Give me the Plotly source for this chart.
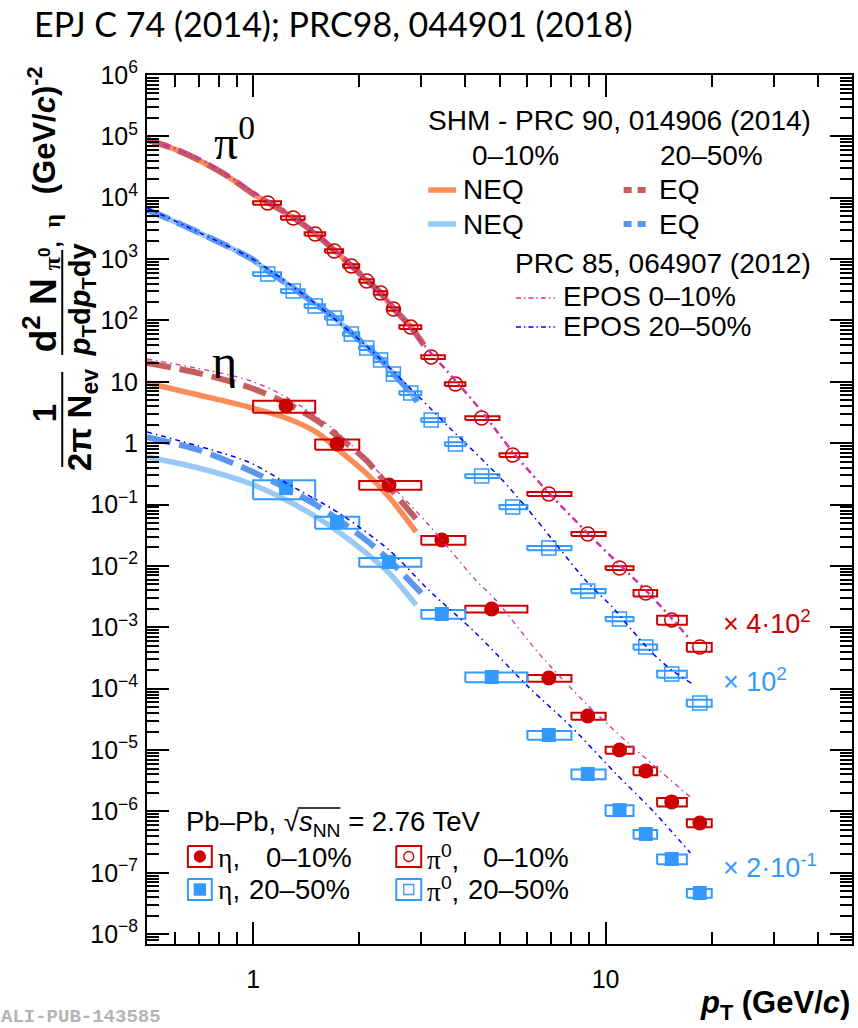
import math
import plotly.graph_objects as go

# ---------------- measured spectra (already multiplied by the scale factors) ----------------
# pi0: bin centres and bin edges (GeV/c)
pi0_pt = [1.1, 1.3, 1.5, 1.7, 1.9, 2.1, 2.3, 2.5, 2.8, 3.2, 3.75, 4.45, 5.45, 6.9, 8.9, 10.95, 13.0, 15.4, 18.5]
pi0_lo = [1.0, 1.2, 1.4, 1.6, 1.8, 2.0, 2.2, 2.4, 2.6, 3.0, 3.5, 4.0, 5.0, 6.0, 8.0, 10.0, 12.0, 14.0, 17.0]
pi0_hi = [1.2, 1.4, 1.6, 1.8, 2.0, 2.2, 2.4, 2.6, 3.0, 3.5, 4.0, 5.0, 6.0, 8.0, 10.0, 12.0, 14.0, 17.0, 20.0]
pi0_c010 = [8200, 4680, 2565, 1355, 772, 440, 280, 154, 78, 25.4, 9.2, 2.58, 0.643, 0.149,
            0.0332, 0.00927, 0.00362, 0.00132, 4.78e-4]            # x 4*10^2
pi0_c010_sys = [0.066, 0.066, 0.066, 0.066, 0.066, 0.066, 0.066, 0.066, 0.07, 0.07,
                0.07, 0.07, 0.07, 0.075, 0.075, 0.07, 0.118, 0.167, 0.167]
pi0_c2050 = [572, 302, 172, 110, 60, 35.6, 22.7, 13.4, 6.58, 2.39, 0.97, 0.292, 0.0914, 0.0196,
             0.00391, 0.00137, 4.78e-4, 1.73e-4, 5.85e-5]          # x 10^2
pi0_c2050_sys = [0.07, 0.07, 0.07, 0.07, 0.07, 0.07, 0.07, 0.07, 0.07, 0.07,
                 0.07, 0.07, 0.08, 0.08, 0.08, 0.08, 0.1, 0.13, 0.13]

# eta
eta_pt = [1.24, 1.73, 2.43, 3.43, 4.75, 6.9, 8.9, 10.95, 13.0, 15.4, 18.5]
eta_lo = [1.0, 1.5, 2.0, 3.0, 4.0, 6.0, 8.0, 10.0, 12.0, 14.0, 17.0]
eta_hi = [1.5, 2.0, 3.0, 4.0, 6.0, 8.0, 10.0, 12.0, 14.0, 17.0, 20.0]
eta_c010 = [4.04, 0.97, 0.208, 0.0265, 0.00199, 1.49e-4, 3.59e-5, 1.0e-5, 4.56e-6, 1.43e-6, 6.48e-7]
eta_c010_sys = [0.222, 0.19, 0.162, 0.162, 0.125, 0.125, 0.13, 0.13, 0.149, 0.162, 0.149]
eta_c2050 = [0.186, 0.052, 0.0116, 0.00165, 1.55e-4, 1.76e-5, 4.07e-6, 1.05e-6, 4.29e-7, 1.68e-7, 4.69e-8]  # x 2*10^-1
eta_c2050_sys = [0.342, 0.222, 0.167, 0.162, 0.18, 0.162, 0.18, 0.198, 0.167, 0.18, 0.162]

# ---------------- SHM (PRC 90, 014906) ----------------
shm_pi0_c010_pt = [0.5, 0.6, 0.7, 0.85, 1.0, 1.1, 1.3, 1.5, 1.7, 1.9, 2.1, 2.3, 2.5, 2.8, 3.05]
shm_pi0_c010_neq = [87300, 61500, 41200, 22000, 11500, 8400, 4750, 2600, 1380, 780, 450, 280, 158, 80, 40]
shm_pi0_c010_eq = [88500, 62000, 41500, 22200, 11600, 8450, 4780, 2620, 1390, 785, 452, 281, 158, 79, 39.8]
shm_pi0_c2050_pt = [0.5, 0.6, 0.7, 0.85, 1.0, 1.1, 1.3, 1.5, 1.7, 1.9, 2.1, 2.3, 2.5, 2.8, 2.92]
shm_pi0_c2050_neq = [6310, 4070, 2690, 1590, 968, 640, 335, 186, 112, 62, 37, 23, 13.5, 6.6, 4.75]
shm_pi0_c2050_eq = [6400, 4100, 2720, 1600, 975, 645, 338, 188, 113, 63, 37.5, 23.2, 13.6, 6.6, 4.75]

shm_eta_pt = [0.5, 0.7, 0.97, 1.24, 1.51, 1.75, 2.09, 2.43]
shm_eta_c010_neq = [9.57, 6.11, 3.89, 2.58, 1.52, 0.776, 0.327, 0.133]
shm_eta_c010_neq_end = (2.90, 0.0358)
shm_eta_c010_eq = [20.3, 13.9, 8.24, 4.52, 2.39, 1.26, 0.533, 0.194]
shm_eta_c010_eq_end = (2.95, 0.052)
shm_eta_c2050_neq = [0.597, 0.395, 0.225, 0.119, 0.0628, 0.0358, 0.0163, 0.00768]
shm_eta_c2050_neq_end = (2.90, 0.00231)
shm_eta_c2050_eq = [1.26, 0.776, 0.367, 0.186, 0.0984, 0.0561, 0.0265, 0.0125]
shm_eta_c2050_eq_end = (3.0, 0.00362)

# ---------------- EPOS (PRC 85, 064907) ----------------
epos_pi0_c010_pt = [0.5, 0.7, 1.0, 1.5, 2.0, 2.5, 3.05, 3.75, 4.45, 5.45, 6.9, 8.9, 10.95, 13.0, 15.4, 17.2]
epos_pi0_c010 = [90600, 44000, 12500, 2700, 600, 165, 40, 10.5, 3.3, 0.72, 0.155, 0.034, 0.0105, 0.004, 0.0014, 6.7e-4]
epos_pi0_c2050_pt = [0.5, 0.7, 1.0, 1.5, 2.1, 2.77, 3.59, 4.97, 6.04, 8.76, 10.42, 11.87, 13.52, 15.41, 17.56]
epos_pi0_c2050 = [6810, 2750, 990, 190, 38, 8.24, 1.84, 0.292, 0.0817, 0.0059, 0.00217, 9.0e-4, 3.9e-4, 2.0e-4, 1.22e-4]
epos_eta_c010_pt = [0.5, 0.97, 1.24, 1.75, 2.43, 3.15, 4.28, 4.88, 6.45, 8.77, 11.6, 17.5]
epos_eta_c010 = [23.6, 10.7, 5.66, 1.45, 0.225, 0.0465, 0.0059, 0.00279, 3.82e-4, 5.85e-5, 1.3e-5, 1.66e-6]
epos_eta_c2050_pt = [0.5, 0.97, 1.24, 1.75, 2.43, 3.15, 4.28, 6.04, 8.0, 10.65, 13.8, 17.4]
epos_eta_c2050 = [1.52, 0.494, 0.225, 0.073, 0.0182, 0.00405, 8.09e-4, 1.07e-4, 2.38e-5, 4.23e-6, 9.44e-7, 2.1e-7]

# ---------------- axis ticks ----------------
x_major = [1, 10]
x_major_text = ["1", "10"]
x_minor = [0.6, 0.7, 0.8, 0.9, 2, 3, 4, 5, 6, 7, 8, 9, 20, 30, 40]
y_exponents = list(range(-8, 7))

# ---------------- styling ----------------
SANS = "Liberation Sans, Arial, sans-serif"
SERIF = "Liberation Serif, Times New Roman, serif"
RED = "#cc0000"
BLUE = "#3399ff"
NEQ_RED = "#fc8d59"
EQ_RED = "#c55f5f"
NEQ_BLUE = "#99c9f7"
EQ_BLUE = "#5c97ef"
EPOS_RED = "#cc33a0"
EPOS_BLUE = "#0000ff"

W, H = 858, 1028
L, R, T, B = 147, 854, 75, 944      # frame of the plotting area in pixels


def xp(px):
    return (px - L) / (R - L)


def yp(py):
    return (B - py) / (B - T)


fig = go.Figure()


def add_curve(x, y, color, width, dash=None, axes=("x", "y"), smooth=True):
    fig.add_trace(go.Scatter(
        x=x, y=y, mode="lines", xaxis=axes[0], yaxis=axes[1],
        line=dict(color=color, width=width, dash=dash,
                  shape="spline" if smooth else "linear", smoothing=0.8),
        hoverinfo="skip", showlegend=False))


def add_boxes(lo, hi, y, rel, color, width=2):
    xs, ys = [], []
    for a, b, v, s in zip(lo, hi, y, rel):
        y0, y1 = v * (1 - s), v * (1 + s)
        xs += [a, b, b, a, a, None]
        ys += [y0, y0, y1, y1, y0, None]
    fig.add_trace(go.Scatter(x=xs, y=ys, mode="lines", line=dict(color=color, width=width),
                             hoverinfo="skip", showlegend=False))


def add_points(x, y, symbol, color, size, lw=1.5):
    fig.add_trace(go.Scatter(x=x, y=y, mode="markers",
                             marker=dict(symbol=symbol, size=size, color=color,
                                         line=dict(color=color, width=lw)),
                             hoverinfo="skip", showlegend=False, cliponaxis=False))


# SHM curves (solid NEQ underneath, dashed EQ on top)
add_curve(shm_pi0_c010_pt, shm_pi0_c010_neq, NEQ_RED, 5.5)
add_curve(shm_pi0_c010_pt, shm_pi0_c010_eq, EQ_RED, 6, dash="24px,9px")
add_curve(shm_pi0_c2050_pt, shm_pi0_c2050_neq, NEQ_BLUE, 5.5)
add_curve(shm_pi0_c2050_pt, shm_pi0_c2050_eq, EQ_BLUE, 6, dash="24px,9px")
add_curve(shm_eta_pt + [shm_eta_c010_neq_end[0]], shm_eta_c010_neq + [shm_eta_c010_neq_end[1]], NEQ_RED, 5.5)
add_curve(shm_eta_pt + [shm_eta_c010_eq_end[0]], shm_eta_c010_eq + [shm_eta_c010_eq_end[1]], EQ_RED, 6, dash="24px,9px")
add_curve(shm_eta_pt + [shm_eta_c2050_neq_end[0]], shm_eta_c2050_neq + [shm_eta_c2050_neq_end[1]], NEQ_BLUE, 5.5)
add_curve(shm_eta_pt + [shm_eta_c2050_eq_end[0]], shm_eta_c2050_eq + [shm_eta_c2050_eq_end[1]], EQ_BLUE, 6, dash="24px,9px")

# systematic boxes and data points
add_boxes(pi0_lo, pi0_hi, pi0_c010, pi0_c010_sys, RED)
add_boxes(pi0_lo, pi0_hi, pi0_c2050, pi0_c2050_sys, BLUE)
add_boxes(eta_lo, eta_hi, eta_c010, eta_c010_sys, RED)
add_boxes(eta_lo, eta_hi, eta_c2050, eta_c2050_sys, BLUE)
add_points(pi0_pt, pi0_c010, "circle-open", RED, 14)
add_points(pi0_pt, pi0_c2050, "square-open", BLUE, 14)
add_points(eta_pt, eta_c010, "circle", RED, 15, lw=0)
add_points(eta_pt, eta_c2050, "square", BLUE, 14, lw=0)

# EPOS curves
add_curve(epos_pi0_c010_pt, epos_pi0_c010, EPOS_RED, 2.5, dash="7px,4px,2px,4px")
add_curve(epos_pi0_c2050_pt, epos_pi0_c2050, EPOS_BLUE, 1.5, dash="5px,4px,1.5px,4px")
add_curve(epos_eta_c010_pt, epos_eta_c010, EPOS_RED, 1.3, dash="5px,4px,1.5px,4px")
add_curve(epos_eta_c2050_pt, epos_eta_c2050, EPOS_BLUE, 1.5, dash="5px,4px,1.5px,4px")

# ---------------- legend keys (pixel coordinates on an overlay axis) ----------------
PX = ("x2", "y2")
add_curve([429, 457], [190, 190], NEQ_RED, 5.5, axes=PX, smooth=False)
add_curve([625, 650], [190, 190], EQ_RED, 6, dash="8px,6px", axes=PX, smooth=False)
add_curve([429, 457], [224, 224], NEQ_BLUE, 5.5, axes=PX, smooth=False)
add_curve([625, 650], [224, 224], EQ_BLUE, 6, dash="8px,6px", axes=PX, smooth=False)
add_curve([517, 556], [298, 298], EPOS_RED, 1.5, dash="5px,3px,1.5px,3px", axes=PX, smooth=False)
add_curve([517, 556], [327, 327], EPOS_BLUE, 1.5, dash="5px,3px,1.5px,3px", axes=PX, smooth=False)


def key_box(x0, x1, y0, y1, color, symbol, msize):
    fig.add_trace(go.Scatter(x=[x0, x1, x1, x0, x0], y=[y0, y0, y1, y1, y0], mode="lines",
                             xaxis="x2", yaxis="y2", line=dict(color=color, width=2),
                             hoverinfo="skip", showlegend=False))
    fig.add_trace(go.Scatter(x=[(x0 + x1) / 2], y=[(y0 + y1) / 2], mode="markers",
                             xaxis="x2", yaxis="y2",
                             marker=dict(symbol=symbol, size=msize, color=color,
                                         line=dict(color=color, width=1.3)),
                             hoverinfo="skip", showlegend=False))


key_box(188, 212, 846, 867, RED, "circle", 11)
key_box(397, 422, 846, 867, RED, "circle-open", 10)
key_box(188, 212, 879, 900, BLUE, "square", 11)
key_box(397, 422, 879, 900, BLUE, "square-open", 10)

# ---------------- text ----------------
def text(px, py, s, size=28, color="black", xanchor="left", yanchor="middle", family=SANS, angle=0):
    fig.add_annotation(x=xp(px), y=yp(py), xref="paper", yref="paper", text=s, showarrow=False,
                       xanchor=xanchor, yanchor=yanchor, textangle=angle,
                       font=dict(size=size, color=color, family=family), borderpad=0)


ETA = "<span style='font-family:Liberation Serif'>η</span>"
PI = "<span style='font-family:Liberation Serif'>π</span>"
NB = "\u00a0"

text(33, 24, "EPJ C 74 (2014); PRC98, 044901 (2018)", size=34, family="Lato, sans-serif")

text(428, 120, "SHM - PRC 90, 014906 (2014)")
text(472, 155, "0–10%")
text(660, 155, "20–50%")
text(463, 190, "NEQ")
text(659, 190, "EQ")
text(463, 224, "NEQ")
text(659, 224, "EQ")
text(515, 263, "PRC 85, 064907 (2012)")
text(563, 296, "EPOS 0–10%")
text(563, 326, "EPOS 20–50%")

LEG2 = 27.5
text(185, 823, "Pb–Pb, √<i>s</i><sub>NN</sub> = 2.76 TeV", size=LEG2)
text(217, 857, ETA + ",", size=LEG2)
text(265, 857, "0–10%", size=LEG2)
text(217, 889, ETA + ",", size=LEG2)
text(248, 889, "20–50%", size=LEG2)
text(427, 857, PI + "<sup>0</sup>,", size=LEG2)
text(483, 857, "0–10%", size=LEG2)
text(427, 889, PI + "<sup>0</sup>,", size=LEG2)
text(468, 889, "20–50%", size=LEG2)

text(724, 622, "× 4·10<sup>2</sup>", size=27, color=RED)
text(724, 680, "× 10<sup>2</sup>", size=27, color=BLUE)
text(724, 866, "× 2·10<sup>-1</sup>", size=27, color=BLUE)

text(235, 139, "π<sup>0</sup>", size=48, family=SERIF, xanchor="center")
text(225, 361, "η", size=48, family=SERIF, xanchor="center")

# axis titles
text(853, 1005, "<b><i>p</i><sub>T</sub> (GeV/<i>c</i>)</b>", size=31, xanchor="right")
text(42, 130, "<b>(GeV/<i>c</i>)<sup>-2</sup></b>", size=31, xanchor="center", angle=-90)
text(40, 315, "<b>d<sup>2</sup>" + NB + "N</b>", size=37, xanchor="center", angle=-90)
text(50, 242, "<b>" + PI + "<sup>0</sup>," + NB + NB + ETA + "</b>", size=24, xanchor="center", angle=-90)
text(82, 300, "<b><i>p</i><sub>T</sub>d<i>p</i><sub>T</sub>dy</b>", size=29, xanchor="center", angle=-90)
text(44, 413, "<b>1</b>", size=33, xanchor="center", angle=-90)
text(82, 420, "<b>2π N<sub>ev</sub></b>", size=33, xanchor="center", angle=-90)
for ya, yb in [(250, 355), (372, 467)]:
    fig.add_shape(type="line", xref="paper", yref="paper", x0=xp(62), x1=xp(62), y0=yp(ya), y1=yp(yb),
                  line=dict(color="black", width=2))
# overline of the square root
fig.add_shape(type="line", xref="paper", yref="paper", x0=xp(298), x1=xp(341), y0=yp(808), y1=yp(808),
              line=dict(color="black", width=1.5))

text(0, 1017, "<b>ALI-PUB-143585</b>", size=19, color="#b4b4b4", family="Liberation Mono, monospace")

# ---------------- axes ----------------
y_minor = [m * 10 ** e for e in range(-9, 6) for m in range(2, 10)]
y_ticktext = []
for e in y_exponents:
    if e == 0:
        y_ticktext.append("1")
    elif e == 1:
        y_ticktext.append("10")
    else:
        y_ticktext.append("10<sup>%s</sup>" % (str(e).replace("-", "−")))

axis_common = dict(showline=True, linewidth=2, linecolor="black", mirror="ticks", ticks="inside",
                   ticklen=22, tickwidth=1.5, tickcolor="black", showgrid=False, zeroline=False,
                   tickfont=dict(size=25, family=SANS, color="black"))

fig.update_layout(
    width=W, height=H,
    margin=dict(l=L, r=W - R, t=T, b=H - B),
    paper_bgcolor="white", plot_bgcolor="white",
    showlegend=False,
    xaxis=dict(type="log", range=[math.log10(0.5), math.log10(50)],
               tickvals=x_major, ticktext=x_major_text, ticklabelstandoff=12,
               minor=dict(ticks="inside", ticklen=12, tickwidth=1.5, tickcolor="black",
                          tickvals=x_minor, showgrid=False),
               **axis_common),
    yaxis=dict(type="log", range=[-8.16, 6],
               tickvals=[10.0 ** e for e in y_exponents], ticktext=y_ticktext, ticklabelstandoff=2,
               minor=dict(ticks="inside", ticklen=12, tickwidth=1.5, tickcolor="black",
                          tickvals=y_minor, showgrid=False),
               **axis_common),
    xaxis2=dict(range=[L, R], overlaying="x", visible=False, anchor="y2"),
    yaxis2=dict(range=[B, T], overlaying="y", visible=False, anchor="x2"),
)

fig.write_html("out.html")
